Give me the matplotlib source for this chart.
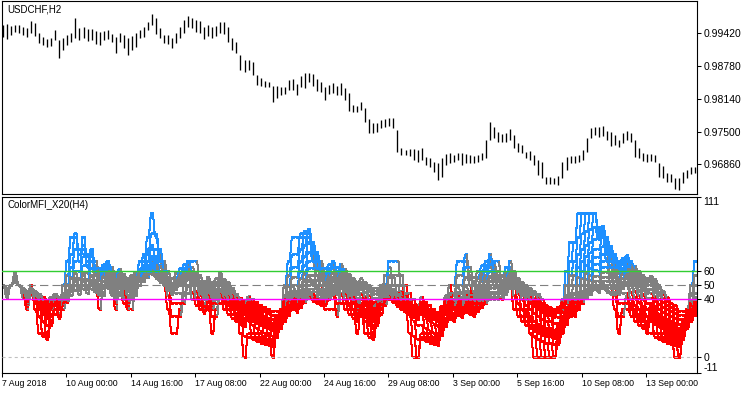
import numpy as np
import matplotlib
matplotlib.use("Agg")
import matplotlib.pyplot as plt
from matplotlib.collections import LineCollection
from matplotlib.transforms import ScaledTranslation

plt.rcParams['font.family'] = ['Liberation Sans', 'DejaVu Sans']
plt.rcParams['lines.scale_dashes'] = False

# USDCHF, one entry per H4 slot (two H2 bars)
highs = [
    0.9958, 0.9960, 0.9956, 0.9958, 0.9958, 0.9954, 0.9952, 0.9966, 0.9962, 0.9943,
    0.9935, 0.9931, 0.9933, 0.9949, 0.9929, 0.9933, 0.9939, 0.9943, 0.9972, 0.9952,
    0.9954, 0.9950, 0.9950, 0.9947, 0.9945, 0.9947, 0.9949, 0.9941, 0.9935, 0.9943,
    0.9939, 0.9933, 0.9937, 0.9943, 0.9949, 0.9954, 0.9964, 0.9980, 0.9972, 0.9952,
    0.9939, 0.9939, 0.9933, 0.9943, 0.9954, 0.9968, 0.9976, 0.9972, 0.9968, 0.9966,
    0.9954, 0.9958, 0.9954, 0.9956, 0.9964, 0.9964, 0.9954, 0.9933, 0.9925, 0.9900,
    0.9890, 0.9890, 0.9886, 0.9861, 0.9855, 0.9849, 0.9847, 0.9839, 0.9839, 0.9837,
    0.9837, 0.9851, 0.9853, 0.9843, 0.9859, 0.9865, 0.9865, 0.9863, 0.9853, 0.9847,
    0.9837, 0.9841, 0.9845, 0.9839, 0.9845, 0.9835, 0.9825, 0.9802, 0.9800, 0.9808,
    0.9796, 0.9775, 0.9767, 0.9767, 0.9773, 0.9775, 0.9777, 0.9777, 0.9753, 0.9718,
    0.9714, 0.9716, 0.9716, 0.9714, 0.9718, 0.9700, 0.9698, 0.9691, 0.9689, 0.9698,
    0.9706, 0.9708, 0.9704, 0.9708, 0.9708, 0.9706, 0.9704, 0.9702, 0.9704, 0.9708,
    0.9734, 0.9769, 0.9759, 0.9749, 0.9745, 0.9747, 0.9755, 0.9743, 0.9728, 0.9724,
    0.9710, 0.9712, 0.9704, 0.9694, 0.9691, 0.9661, 0.9661, 0.9659, 0.9663, 0.9691,
    0.9700, 0.9702, 0.9702, 0.9704, 0.9714, 0.9737, 0.9757, 0.9759, 0.9759, 0.9761,
    0.9751, 0.9749, 0.9743, 0.9734, 0.9747, 0.9751, 0.9747, 0.9734, 0.9718, 0.9708,
    0.9706, 0.9706, 0.9704, 0.9689, 0.9683, 0.9669, 0.9667, 0.9659, 0.9659, 0.9671,
    0.9675, 0.9681, 0.9681,
]
lows = [
    0.9935, 0.9931, 0.9939, 0.9945, 0.9943, 0.9939, 0.9935, 0.9943, 0.9937, 0.9923,
    0.9919, 0.9915, 0.9917, 0.9929, 0.9894, 0.9909, 0.9919, 0.9925, 0.9933, 0.9929,
    0.9933, 0.9927, 0.9929, 0.9921, 0.9919, 0.9929, 0.9931, 0.9925, 0.9904, 0.9925,
    0.9913, 0.9900, 0.9909, 0.9915, 0.9933, 0.9935, 0.9949, 0.9958, 0.9941, 0.9933,
    0.9923, 0.9921, 0.9913, 0.9923, 0.9933, 0.9943, 0.9954, 0.9952, 0.9945, 0.9943,
    0.9931, 0.9937, 0.9933, 0.9937, 0.9943, 0.9941, 0.9925, 0.9909, 0.9904, 0.9870,
    0.9866, 0.9870, 0.9861, 0.9841, 0.9839, 0.9837, 0.9837, 0.9808, 0.9816, 0.9821,
    0.9823, 0.9831, 0.9831, 0.9821, 0.9837, 0.9835, 0.9847, 0.9839, 0.9829, 0.9827,
    0.9812, 0.9823, 0.9825, 0.9821, 0.9821, 0.9812, 0.9790, 0.9788, 0.9788, 0.9792,
    0.9769, 0.9747, 0.9747, 0.9749, 0.9757, 0.9759, 0.9761, 0.9757, 0.9710, 0.9704,
    0.9704, 0.9702, 0.9694, 0.9691, 0.9694, 0.9685, 0.9681, 0.9671, 0.9655, 0.9661,
    0.9685, 0.9689, 0.9691, 0.9694, 0.9685, 0.9689, 0.9689, 0.9689, 0.9691, 0.9694,
    0.9698, 0.9734, 0.9737, 0.9730, 0.9730, 0.9730, 0.9734, 0.9718, 0.9710, 0.9708,
    0.9698, 0.9694, 0.9685, 0.9665, 0.9659, 0.9648, 0.9648, 0.9648, 0.9646, 0.9659,
    0.9675, 0.9689, 0.9689, 0.9691, 0.9694, 0.9710, 0.9737, 0.9743, 0.9739, 0.9741,
    0.9734, 0.9722, 0.9724, 0.9720, 0.9728, 0.9734, 0.9730, 0.9700, 0.9698, 0.9693,
    0.9691, 0.9693, 0.9691, 0.9661, 0.9659, 0.9651, 0.9651, 0.9638, 0.9636, 0.9650,
    0.9659, 0.9667, 0.9669,
]

# the 20 MFI periods of ColorMFI_X20
mfi_periods = list(range(6, 26))

date_labels = ['7 Aug 2018', '10 Aug 00:00', '14 Aug 16:00', '17 Aug 08:00',
               '22 Aug 00:00', '24 Aug 16:00', '29 Aug 08:00', '3 Sep 00:00',
               '5 Sep 16:00', '10 Sep 08:00', '13 Sep 00:00']
price_ticks = [0.99420, 0.98780, 0.98140, 0.97500, 0.96860]
mfi_ticks = [111, 60, 50, 40, 0, -11]

BLUE = '#1E90FF'
RED = '#FF0000'
GRAY = '#808080'


def money_flow_index(high, low, period):
    # tick volume is not on the chart, so every bar gets the same volume
    tp = (high + low) / 2
    diff = np.diff(tp, prepend=tp[0])
    pos = np.where(diff > 0, tp, 0.0)
    neg = np.where(diff < 0, tp, 0.0)
    base = tp.mean() / 2
    out = np.full(len(tp), 50.0)
    for t in range(1, len(tp)):
        a = max(1, t - period + 1)
        missing = period - (t + 1 - a)   # history before the first bar: neutral
        p = pos[a:t + 1].sum() + missing * base
        n = neg[a:t + 1].sum() + missing * base
        if p + n > 0:
            out[t] = 100 * p / (p + n)
    return out


def level_color(v):
    if v > 60:
        return BLUE
    if v < 40:
        return RED
    return GRAY


high = np.array(highs)
low = np.array(lows)
n = len(high)
slots = np.arange(n)

W, H = 750, 394
fig = plt.figure(figsize=(W / 100, H / 100), dpi=100)
left, right = 2, 697
ax1 = fig.add_axes([left / W, 1 - 194 / H, (right - left) / W, 193 / H])
ax2 = fig.add_axes([left / W, 1 - 373 / H, (right - left) / W, 176 / H])

xlim = (-0.25, 172.42)

# price panel
ax1.vlines(slots, low, high, color='black', linewidth=0.95)
ax1.set_xlim(*xlim)
ax1.set_ylim(0.96280, 1.00051)
ax1.set_xticks([])
ax1.yaxis.tick_right()
ax1.set_yticks(price_ticks)
ax1.set_yticklabels([f'{t:.5f}' for t in price_ticks])
ax1.text(5 / (right - left), 1 - 8 / 193, 'USDCHF,H2', transform=ax1.transAxes,
         fontsize=7, va='center', ha='left')

# indicator panel
segs, cols = [], []
for p in mfi_periods:
    v = money_flow_index(high, low, p)
    for i in range(n):
        if i > 0:
            segs.append([(i - 0.75, v[i - 1]), (i - 0.25, v[i])])
            cols.append(level_color(v[i]))
        segs.append([(i - 0.25, v[i]), (i + 0.25, v[i])])
        cols.append(level_color(v[i]))
ax2.add_collection(LineCollection(segs, colors=cols, linewidths=0.75,
                                  antialiaseds=False, zorder=2))

ax2.axhline(60, color='#32CD32', linewidth=1.0, zorder=3)
ax2.axhline(40, color='#FF00FF', linewidth=1.0, zorder=3)
ax2.axhline(50, color=GRAY, linewidth=0.8, linestyle=(0, (6, 3)), zorder=3)
ax2.axhline(0, color='#C0C0C0', linewidth=0.8, linestyle=(0, (2.2, 2.2)), zorder=3)

ax2.set_xlim(*xlim)
ax2.set_ylim(-11, 111)
ax2.yaxis.tick_right()
ax2.set_yticks(mfi_ticks)
ax2.set_yticklabels([str(t) for t in mfi_ticks])
ylabels = ax2.get_yticklabels()
ylabels[0].set_va('top')
ylabels[-1].set_va('bottom')
ax2.text(5 / (right - left), 1 - 8 / 176, 'ColorMFI_X20(H4)', transform=ax2.transAxes,
         fontsize=7, va='center', ha='left')

ax2.set_xticks([16 * k - 0.25 for k in range(len(date_labels))])
ax2.set_xticklabels(date_labels, ha='left')
shift = ScaledTranslation(2 / 100, 0, fig.dpi_scale_trans)
for lab in ax2.get_xticklabels():
    lab.set_transform(lab.get_transform() + shift)

for ax in (ax1, ax2):
    for s in ax.spines.values():
        s.set_linewidth(0.8)
        s.set_color('black')
    ax.tick_params(axis='y', direction='out', length=3, width=0.75,
                   labelsize=7.5, pad=1.5)
    ax.tick_params(axis='x', direction='out', length=3, width=0.75,
                   labelsize=6.3, pad=1.5)

fig.savefig('out.png', dpi=100, facecolor='white')
